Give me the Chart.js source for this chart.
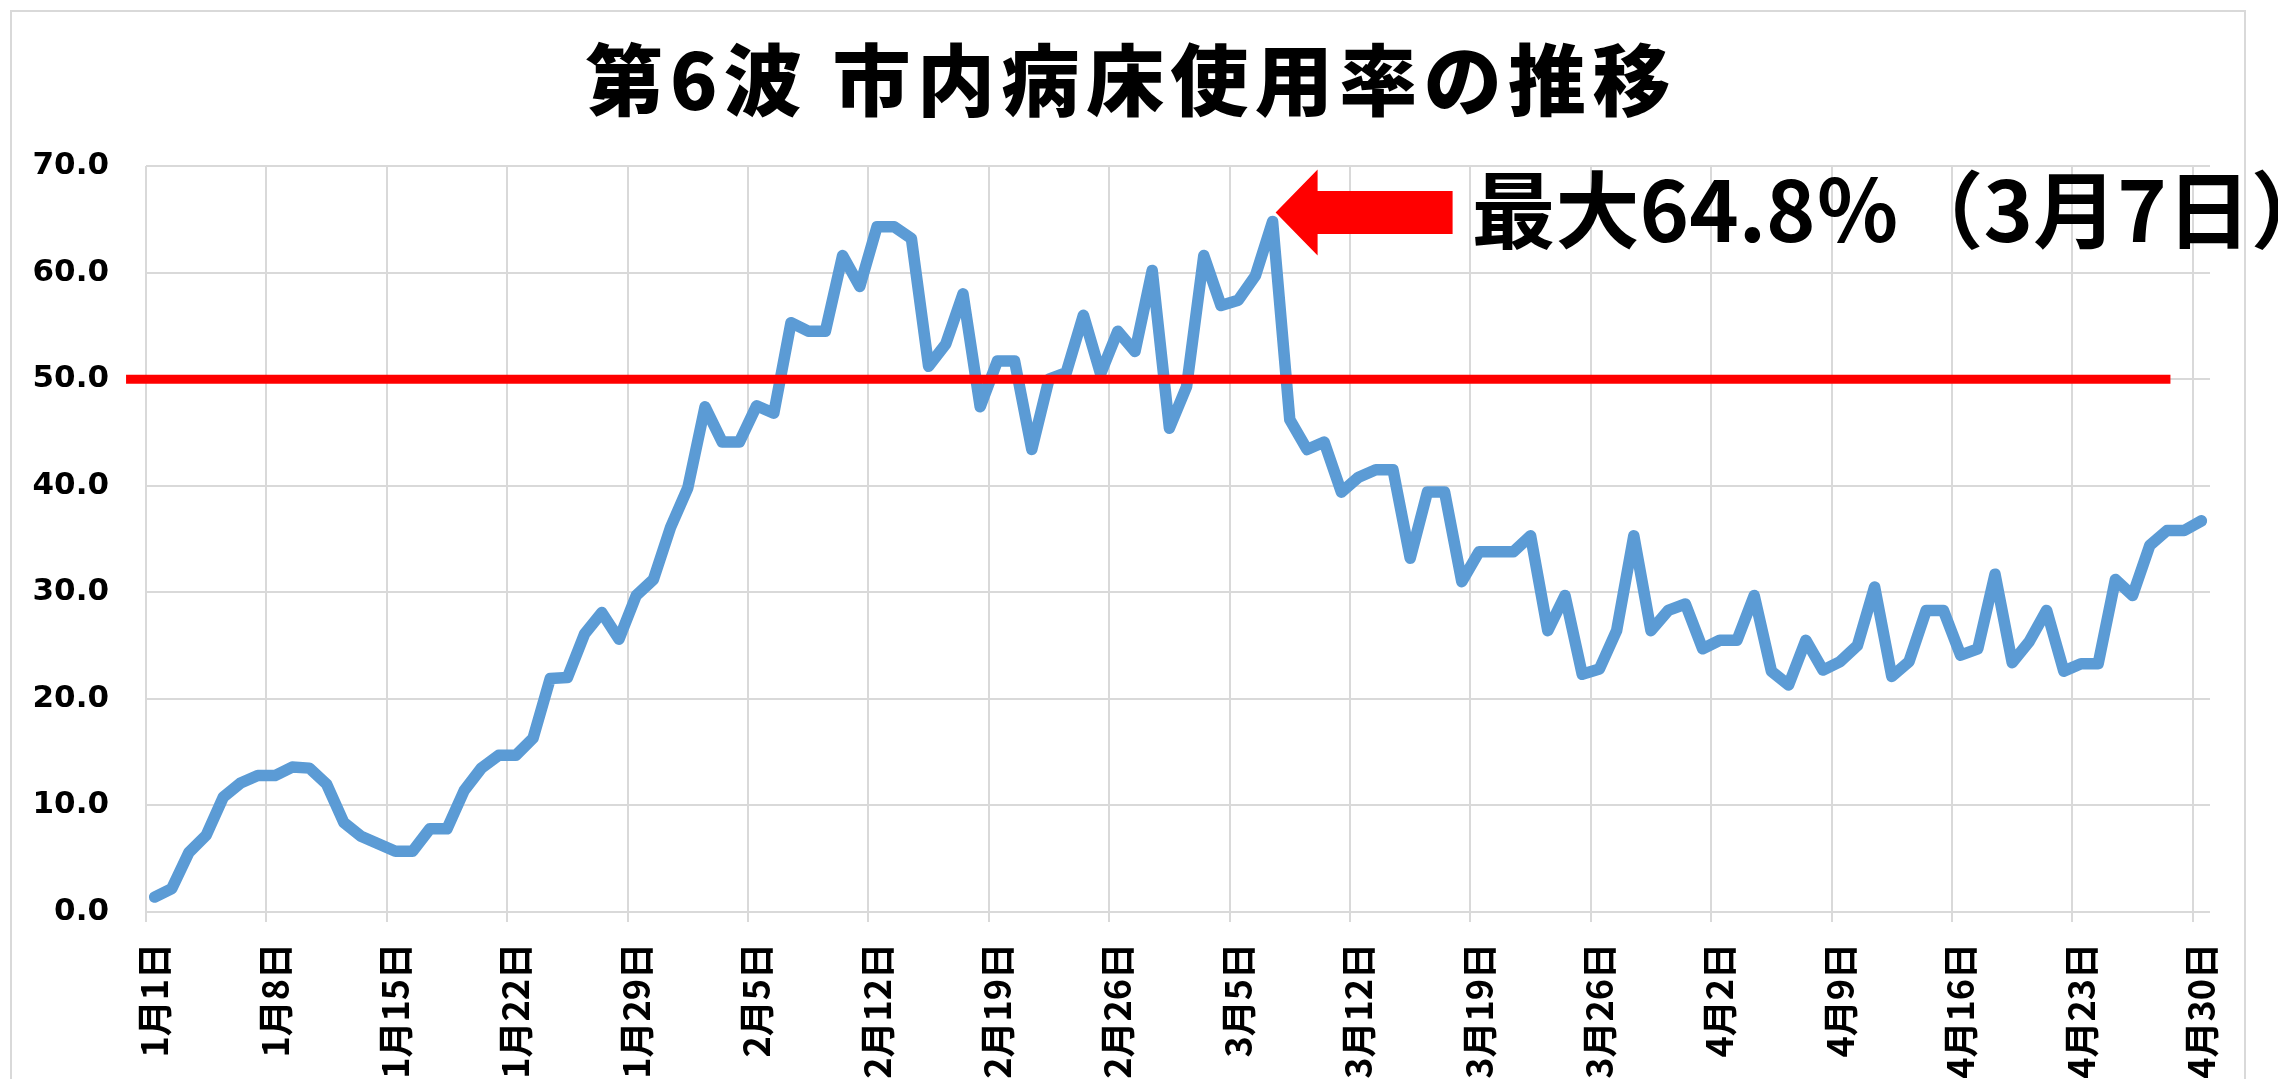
<!DOCTYPE html>
<html lang="ja">
<head>
<meta charset="utf-8">
<title>第6波 市内病床使用率の推移</title>
<script src="https://cdn.jsdelivr.net/npm/chart.js@4.4.1/dist/chart.umd.min.js"></script>
<style>
  html, body { margin: 0; padding: 0; background: #ffffff; }
  canvas { display: block; }
</style>
</head>
<body>
<canvas id="chart" width="2278" height="1079"></canvas>
<script>
// ---- data ----
const chartTitle = '第6波 市内病床使用率の推移';
const peakLabel = '最大64.8％（3月7日）';
const monthDays = [31, 28, 31, 30];           // Jan..Apr 2022
const categories = [];
monthDays.forEach((n, m) => { for (let d = 1; d <= n; d++) categories.push((m + 1) + '月' + d + '日'); });
const tickLabels = ['1月1日','1月8日','1月15日','1月22日','1月29日','2月5日','2月12日','2月19日','2月26日',
  '3月5日','3月12日','3月19日','3月26日','4月2日','4月9日','4月16日','4月23日','4月30日'];
const bedUsage = [
  1.4, 2.2, 5.6, 7.2, 10.8, 12.1, 12.8, 12.8, 13.6, 13.5,
  12.0, 8.4, 7.1, 6.4, 5.7, 5.7, 7.8, 7.8, 11.4, 13.5,
  14.7, 14.7, 16.3, 21.9, 22.0, 26.1, 28.1, 25.6, 29.7, 31.2,
  36.1, 39.8, 47.4, 44.1, 44.1, 47.5, 46.8, 55.3, 54.5, 54.5,
  61.6, 58.7, 64.3, 64.3, 63.2, 51.2, 53.3, 58.0, 47.4, 51.7,
  51.7, 43.4, 50.0, 50.6, 56.0, 50.5, 54.5, 52.6, 60.2, 45.4,
  49.3, 61.6, 56.9, 57.4, 59.7, 64.8, 46.2, 43.4, 44.1, 39.4,
  40.8, 41.5, 41.5, 33.2, 39.4, 39.4, 31.0, 33.8, 33.8, 33.8,
  35.3, 26.4, 29.7, 22.3, 22.8, 26.4, 35.3, 26.4, 28.3, 28.9,
  24.7, 25.5, 25.5, 29.7, 22.6, 21.3, 25.5, 22.7, 23.5, 25.0,
  30.5, 22.1, 23.5, 28.3, 28.3, 24.1, 24.7, 31.7, 23.4, 25.4,
  28.3, 22.6, 23.3, 23.3, 31.2, 29.7, 34.4, 35.8, 35.8, 36.7
];
const thresholdValue = 50;
const thresholdFrom = -1.66;   // category units
const thresholdTo = 117.2;
const yMin = 0, yMax = 70, yStep = 10;

// ---- plugins ----
const GRID = '#d9d9d9';
const decorPlugin = {
  id: 'decor',
  beforeDraw(chart) {
    const c = chart.ctx;
    c.save();
    c.fillStyle = '#ffffff';
    c.fillRect(0, 0, chart.width, chart.height);
    c.strokeStyle = GRID;
    c.lineWidth = 2;
    c.strokeRect(11, 11, 2234, 1100);
    c.restore();
  },
  afterDatasetsDraw(chart) {
    const c = chart.ctx, xs = chart.scales.x, ys = chart.scales.y;
    const y = ys.getPixelForValue(thresholdValue);
    c.save();
    c.strokeStyle = '#ff0000';
    c.lineWidth = 9;
    c.lineCap = 'butt';
    c.beginPath();
    c.moveTo(xs.getPixelForValue(thresholdFrom), y);
    c.lineTo(xs.getPixelForValue(thresholdTo), y);
    c.stroke();
    c.restore();
  },
  afterDraw(chart) {
    const c = chart.ctx, xs = chart.scales.x, ys = chart.scales.y;
    // title
    c.save();
    c.fillStyle = '#000000';
    c.font = '900 78px "Noto Sans CJK JP"';
    c.textBaseline = 'middle';
    c.textAlign = 'left';
    const natural = c.measureText(chartTitle).width;
    const targetW = 1085;
    const ls = (targetW - natural) / (chartTitle.length - 1);
    try { c.letterSpacing = ls + 'px'; } catch (e) {}
    const tw = c.measureText(chartTitle).width - ls;
    c.fillText(chartTitle, 1128 - tw / 2, 80);
    c.restore();

    // arrow pointing at maximum
    let maxI = 0;
    bedUsage.forEach((v, i) => { if (v > bedUsage[maxI]) maxI = i; });
    const tx = xs.getPixelForValue(maxI) + 3;
    const ty = ys.getPixelForValue(bedUsage[maxI]) - 9;
    c.save();
    c.fillStyle = '#ff0000';
    c.beginPath();
    c.moveTo(tx, ty);
    c.lineTo(tx + 42, ty - 43);
    c.lineTo(tx + 42, ty - 21.5);
    c.lineTo(tx + 177, ty - 21.5);
    c.lineTo(tx + 177, ty + 21.5);
    c.lineTo(tx + 42, ty + 21.5);
    c.lineTo(tx + 42, ty + 43);
    c.closePath();
    c.fill();
    c.restore();

    // label
    c.save();
    c.fillStyle = '#000000';
    c.font = 'bold 84px "Noto Sans CJK JP"';
    c.textBaseline = 'middle';
    c.textAlign = 'left';
    c.fillText(peakLabel, tx + 196, ty - 2);
    c.restore();
  }
};

const ctx = document.getElementById('chart').getContext('2d');
new Chart(ctx, {
  type: 'line',
  data: {
    labels: categories,
    datasets: [{
      data: bedUsage,
      borderColor: '#5b9bd5',
      backgroundColor: '#5b9bd5',
      borderWidth: 11.5,
      pointRadius: 0,
      pointHoverRadius: 0,
      tension: 0,
      borderJoinStyle: 'round',
      borderCapStyle: 'round',
      fill: false
    }]
  },
  options: {
    responsive: false,
    animation: false,
    devicePixelRatio: 1,
    layout: { padding: { top: 166, right: 68, bottom: 0, left: 0 } },
    plugins: {
      legend: { display: false },
      title: { display: false },
      tooltip: { enabled: false }
    },
    scales: {
      x: {
        type: 'category',
        offset: true,
        border: { display: false },
        grid: {
          offset: true,
          color: (c) => (c.index !== undefined && c.index % 7 === 0) ? GRID : 'rgba(0,0,0,0)',
          lineWidth: 2,
          drawTicks: true,
          tickLength: 10
        },
        ticks: {
          autoSkip: false,
          minRotation: 90,
          maxRotation: 90,
          padding: 21,
          color: '#000000',
          font: { family: '"Noto Sans CJK JP"', size: 36, weight: 'bold' },
          callback: (val, idx) => (idx % 7 === 0) ? tickLabels[idx / 7] : ''
        },
        afterFit: (s) => { s.height = 167; }
      },
      y: {
        min: yMin,
        max: yMax,
        border: { display: false },
        grid: { color: GRID, lineWidth: 2, drawTicks: false },
        ticks: {
          stepSize: yStep,
          padding: 37,
          color: '#000000',
          font: { family: '"DejaVu Sans"', size: 31, weight: 'bold' },
          callback: (v) => Number(v).toFixed(1)
        },
        afterFit: (s) => { s.width = 146; }
      }
    }
  },
  plugins: [decorPlugin]
});
</script>
</body>
</html>
